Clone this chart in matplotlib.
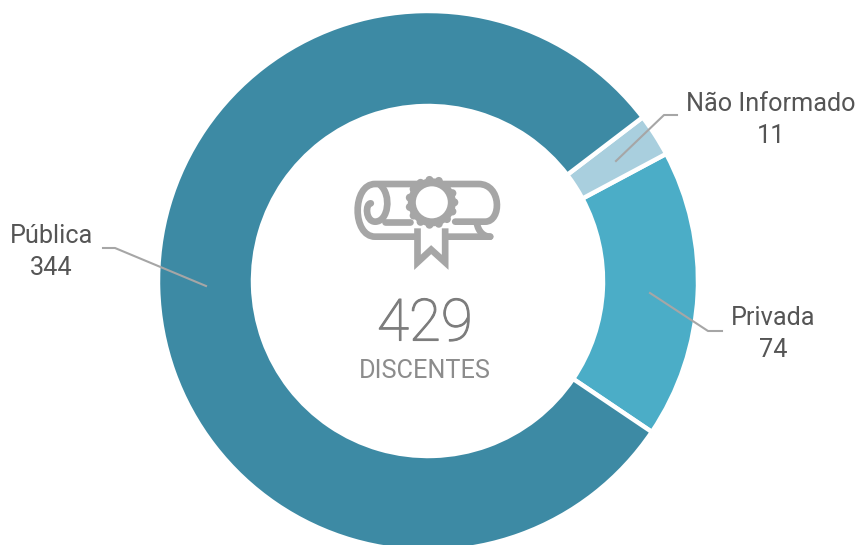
import numpy as np
import matplotlib
matplotlib.use('Agg')
import matplotlib.pyplot as plt
import matplotlib.patheffects as pe
from matplotlib.patches import Circle, PathPatch, Polygon
from matplotlib.path import Path

# Data
categories = ['Privada', 'Não Informado', 'Pública']
values = [74, 11, 344]
colors = ['#4badc7', '#a9cfde', '#3d8aa4']
total = 429
center_label = 'DISCENTES'

W, H = 859, 545
plt.rcParams['font.family'] = ['Roboto', 'DejaVu Sans']

fig = plt.figure(figsize=(W / 100, H / 100), dpi=100)
ax = fig.add_axes([0, 0, 1, 1])


def py(y):
    # reference y pixel to axes y
    return H - y


# Donut
ax.pie(values, colors=colors, startangle=-34, counterclock=True, radius=270, center=(428, py(281)),
       wedgeprops=dict(width=95, edgecolor='white', linewidth=3.2), frame=False)
ax.set_xlim(0, W)
ax.set_ylim(0, H)
ax.set_aspect('equal')
ax.axis('off')

# Leader lines
leaders = {
    'Não Informado': [(616, 161), (664, 115), (677, 115)],
    'Privada': [(650, 293), (708, 331), (722, 331)],
    'Pública': [(206, 286), (115, 248), (103, 248)],
}
for pts in leaders.values():
    ax.plot([p[0] for p in pts], [py(p[1]) for p in pts], color='#a6a6a6', lw=1.5, zorder=5)

# Slice labels
label_pos = {'Não Informado': (771, 120), 'Privada': (773, 334), 'Pública': (51, 252)}
for name, val in zip(categories, values):
    x, y = label_pos[name]
    ax.text(x, py(y), f'{name}\n{val}', ha='center', va='center', fontsize=18.2, color='#555555',
            linespacing=1.38, zorder=6)

# Centre text
num = ax.text(425, py(325), str(total), ha='center', va='center', fontsize=42, color='#7d7d7d', fontweight='light')
num.set_path_effects([pe.withStroke(linewidth=0.8, foreground='#7d7d7d')])
ax.text(425, py(371), center_label, ha='center', va='center', fontsize=18.2, color='#8c8c8c')

# Diploma icon
icon = '#a6a6a6'
lw_icon = 4.8


def zx(v):
    return 338.5 + v / 3


def zy(v):
    return py(165 + v / 3)


def stroke(verts, codes):
    path = Path([(zx(a), zy(b)) for a, b in verts], codes)
    ax.add_patch(PathPatch(path, fc='none', ec=icon, lw=lw_icon, capstyle='round', joinstyle='round', zorder=3))


M, L, C = Path.MOVETO, Path.LINETO, Path.CURVE4
# outer roll and bottom edge
stroke([(455, 215), (110, 215), (40, 215), (40, 57), (110, 57), (420, 57), (490, 57), (490, 170), (440, 170), (350, 170)],
       [M, L, C, C, C, L, C, C, C, L])
# spiral
stroke([(125, 60), (160, 90), (150, 170), (110, 170), (80, 170), (80, 115), (97, 115)],
       [M, C, C, C, C, C, C])
stroke([(140, 170), (215, 170)], [M, L])
# tail
stroke([(415, 175), (420, 200), (435, 215), (455, 215)], [M, C, C, C])
# ribbon
ribbon = Polygon([(zx(a), zy(b)) for a, b in [(237, 190), (237, 292), (278, 254), (320, 292), (320, 190)]],
                 closed=False, fc='white', ec=icon, lw=lw_icon, joinstyle='miter', zorder=3)
ax.add_patch(ribbon)
# rosette
cx, cy = zx(280), zy(112)
for ang in np.arange(0, 360, 24):
    ax.add_patch(Circle((cx + 22.5 * np.cos(np.radians(ang)), cy + 22.5 * np.sin(np.radians(ang))), 4, fc=icon, ec='none', zorder=4))
ax.add_patch(Circle((cx, cy), 24, fc=icon, ec='none', zorder=4))
ax.add_patch(Circle((cx, cy), 16, fc='white', ec='none', zorder=4))

fig.savefig('out.png', dpi=100)
